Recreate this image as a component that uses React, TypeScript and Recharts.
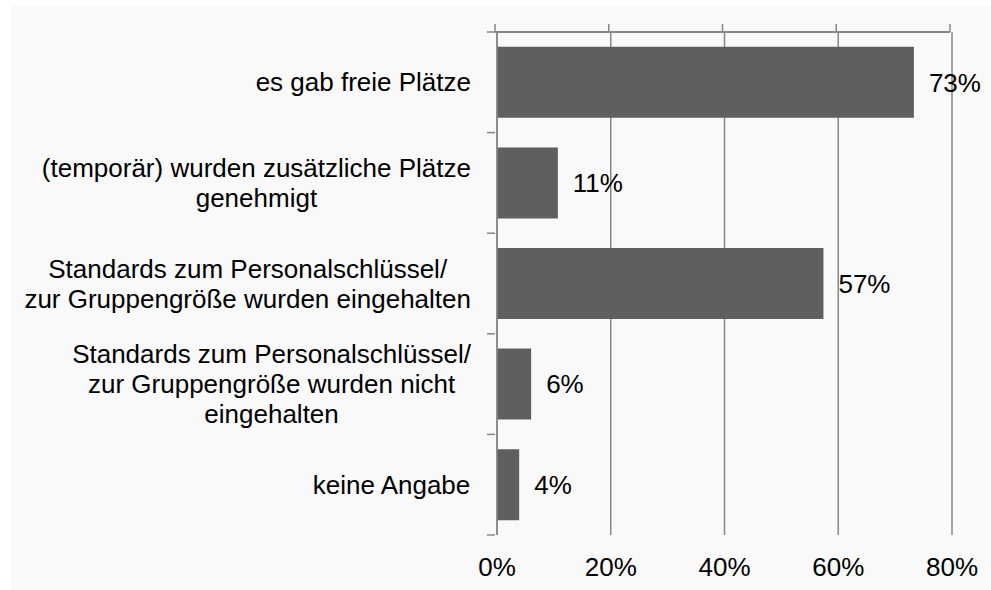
import React from "react";
import {
  BarChart,
  Bar,
  XAxis,
  YAxis,
  CartesianGrid,
  LabelList,
} from "recharts";

const categories = [
  ["es gab freie Plätze"],
  ["(temporär) wurden zusätzliche Plätze", "genehmigt"],
  ["Standards zum Personalschlüssel/", "zur Gruppengröße wurden eingehalten"],
  ["Standards zum Personalschlüssel/", "zur Gruppengröße wurden nicht", "eingehalten"],
  ["keine Angabe"],
];
const shares = [73.3, 10.7, 57.4, 6.0, 3.9];
const xTicks = [0, 20, 40, 60, 80];

const data = categories.map((lines, i) => ({
  name: lines.join(" "),
  lines,
  value: shares[i],
}));

const FONT = '"Liberation Sans", Arial, sans-serif';
const GRID = "#878787";
const CHART_W = 991;
const AXIS_W = 497;
const RIGHT = 39;
const PLOT_W = CHART_W - AXIS_W - RIGHT;
const X_MAX = xTicks[xTicks.length - 1];

let ctx: CanvasRenderingContext2D | null = null;
function textWidth(s: string) {
  if (!ctx) {
    ctx = document.createElement("canvas").getContext("2d");
    if (ctx) ctx.font = `26px ${FONT}`;
  }
  return ctx ? ctx.measureText(s).width : s.length * 13;
}

// category labels: lines centred on each other, block right-aligned near the axis
const CategoryTick = (props: any) => {
  const { x, y, payload, index } = props;
  const row = data.find((d) => d.name === payload.value);
  const lines = row ? row.lines : [String(payload.value)];
  const maxW = Math.max(...lines.map(textWidth));
  const cx = x - 24 - maxW / 2;
  const lh = 30;
  const top = y - ((lines.length - 1) * lh) / 2;
  const half = payload.offset ?? 50;
  const edge = y - half;
  return (
    <g>
      <line x1={x - 8} x2={x} y1={edge} y2={edge} stroke={GRID} strokeWidth={1.5} />
      {index === 0 && (
        // top frame line with the small upward ticks
        <g>
          <line x1={x} x2={x + PLOT_W} y1={edge} y2={edge} stroke={GRID} strokeWidth={2} />
          {xTicks.map((t) => (
            <line
              key={t}
              x1={x + (PLOT_W * t) / X_MAX}
              x2={x + (PLOT_W * t) / X_MAX}
              y1={edge - 8}
              y2={edge}
              stroke={GRID}
              strokeWidth={1.5}
            />
          ))}
        </g>
      )}
      {index === data.length - 1 && (
        <line x1={x - 8} x2={x} y1={y + half} y2={y + half} stroke={GRID} strokeWidth={1.5} />
      )}
      {lines.map((l, i) => (
        <text
          key={i}
          x={cx}
          y={top + i * lh}
          textAnchor="middle"
          dominantBaseline="central"
          fontSize={26}
          fontFamily={FONT}
          fill="#000"
        >
          {l}
        </text>
      ))}
    </g>
  );
};

export default function App() {
  return (
    <div style={{ position: "absolute", left: 0, top: 0, width: 991, height: 590, background: "#fff" }}>
      <div style={{ position: "absolute", left: 11, top: 6, right: 0, bottom: 0, background: "#f9f9f9" }} />
      <div style={{ position: "absolute", left: 0, top: 0 }}>
        <BarChart
          width={CHART_W}
          height={590}
          data={data}
          layout="vertical"
          margin={{ top: 32, right: RIGHT, bottom: 0, left: 0 }}
          barCategoryGap="14.7%"
          style={{ fontFamily: FONT }}
        >
          <CartesianGrid horizontal={false} stroke={GRID} strokeWidth={1.5} />
          <XAxis
            type="number"
            domain={[0, X_MAX]}
            ticks={xTicks}
            tickFormatter={(v) => `${v}%`}
            axisLine={false}
            tickLine={false}
            tickSize={0}
            tickMargin={23}
            height={55}
            tick={{ fontSize: 26, fill: "#000", fontFamily: FONT }}
          />
          <YAxis
            type="category"
            dataKey="name"
            width={AXIS_W}
            axisLine={{ stroke: GRID, strokeWidth: 1.5 }}
            tickLine={false}
            tickSize={0}
            tick={<CategoryTick />}
            interval={0}
          />
          <Bar dataKey="value" fill="#5f5f5f" isAnimationActive={false}>
            <LabelList
              dataKey="value"
              position="right"
              offset={15}
              formatter={(v: any) => `${Math.round(Number(v))}%`}
              style={{ fontSize: 26, fill: "#000", fontFamily: FONT }}
            />
          </Bar>
        </BarChart>
      </div>
    </div>
  );
}
